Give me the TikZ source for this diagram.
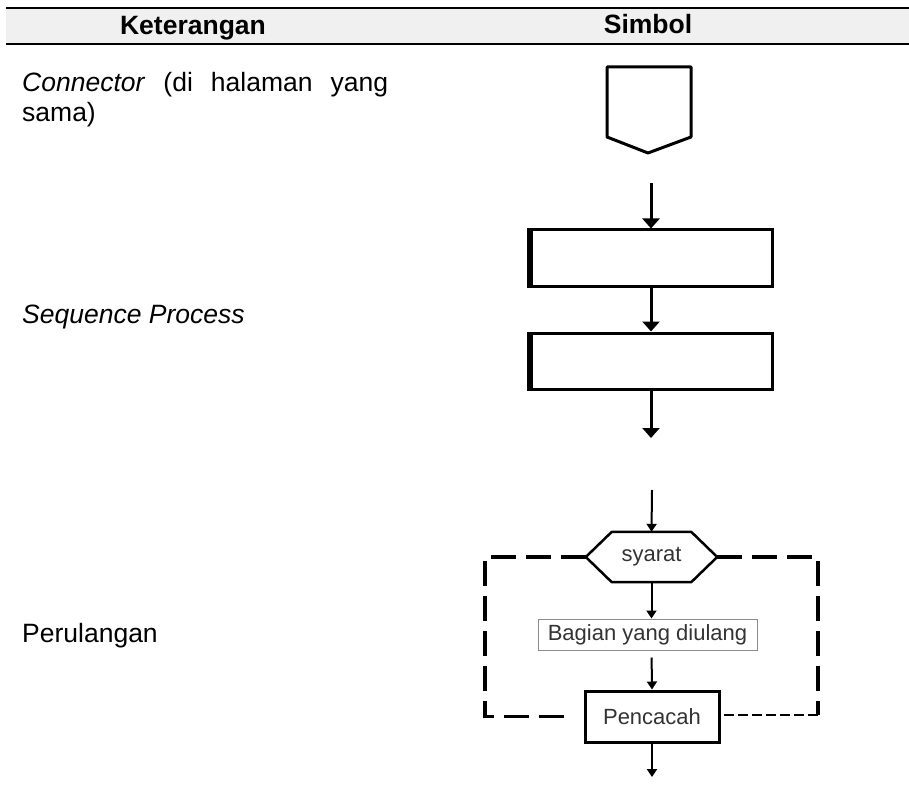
\documentclass[tikz,border=0pt]{standalone}
\usepackage{fontspec}
\setmainfont{Liberation Sans}
\usetikzlibrary{arrows.meta,calc,positioning}
\tikzset{
    teks/.style={anchor=base west,inner sep=0pt,node font=\fontsize{26.5}{30}\selectfont},
    judul/.style={anchor=base,inner sep=0pt,node font=\fontsize{26.5}{30}\selectfont\bfseries},
    panah/.style={draw,line width=3pt,-{Triangle[width=17pt,length=10pt]}},
    panahtipis/.style={draw,line width=2pt,-{Triangle[width=10pt,length=8pt]}},
    proses/.style={rectangle,draw,line width=3pt,minimum width=244pt,minimum height=56pt,inner sep=0pt},
    kotak/.style={rectangle,draw,inner sep=0pt,node font=\fontsize{22}{26}\selectfont,text=black!80},
    putus/.style={draw,line width=3.5pt,dash pattern=on 25pt off 10pt},
    putustipis/.style={draw,line width=2pt,dash pattern=on 10pt off 4pt},
}

\begin{document}
\begin{tikzpicture}[x=1pt,y=-1pt]
    \useasboundingbox (0,0) rectangle (909,786);
    % kepala tabel
    \fill[black!6] (6,8) rectangle (909,44);
    \draw[line width=2.5pt] (6,8) -- (909,8) (6,44) -- (909,44);
    \node[judul] (hket) at (193,35) {Keterangan};
    \node[judul] (hsim) at (648,34) {Simbol};

    % connector
    \node[teks,text width=366pt,align=justify] (kconn) at (22,92) {\textit{Connector} (di halaman yang sama)};
    \draw[line width=3pt,line join=round] (607,67) -- (691,67) -- (691,137) -- (648,153) -- (607,137) -- cycle;

    % sequence process
    \node[teks,font=\itshape] (kseq) at (22,323) {Sequence Process};
    \coordinate (seqin) at (651,183);
    \node[proses] (prosesa) at (650,258) {};
    \node[proses] (prosesb) at (650,361) {};
    \coordinate (seqout) at (651,438);
    \foreach \p in {prosesa,prosesb}
        \draw[line width=6pt] ([xshift=3pt]\p.north west) -- ([xshift=3pt]\p.south west);
    \draw[panah] (seqin) -- (seqin |- prosesa.north);
    \draw[panah] (prosesa.south -| seqin) -- (seqin |- prosesb.north);
    \draw[panah] (prosesb.south -| seqin) -- (seqout);

    % perulangan
    \node[teks] (kloop) at (22,642) {Perulangan};
    \coordinate (loopin) at (652,490);
    \node[kotak,draw=none,minimum width=79pt,minimum height=50pt] (syarat) at (651.5,557) {syarat};
    \draw[line width=2.5pt,line join=round] (syarat.north west) -- (syarat.north east)
        -- ($(syarat.east)+(26,0)$) coordinate (syaratkanan) -- (syarat.south east)
        -- (syarat.south west) -- ($(syarat.west)+(-26,0)$) coordinate (syaratkiri) -- cycle;
    \node[kotak,draw=black!45,line width=1pt,minimum width=219pt,minimum height=31pt] (bagian) at (647.5,634.5) {Bagian yang diulang};
    \node[kotak,line width=3pt,minimum width=134pt,minimum height=51pt] (pencacah) at (652,716.5) {Pencacah};
    \coordinate (loopout) at (652,777);
    \draw[panahtipis] (loopin) -- (syarat.north);
    \draw[panahtipis] (syarat.south) -- (syarat.south |- bagian.north);
    \draw[panahtipis,shorten <=7pt] (syarat.south |- bagian.south) -- (pencacah.north);
    \draw[panahtipis] (pencacah.south) -- (loopout);
    \coordinate (sudutkanan) at (818,715);
    \draw[putus] (syaratkiri) -- ++(-101,0) |- ([xshift=-12pt]pencacah.west);
    \draw[putus] (syaratkanan) -| (sudutkanan);
    \draw[putustipis] (sudutkanan) -- (pencacah.east |- sudutkanan);
\end{tikzpicture}
\end{document}
